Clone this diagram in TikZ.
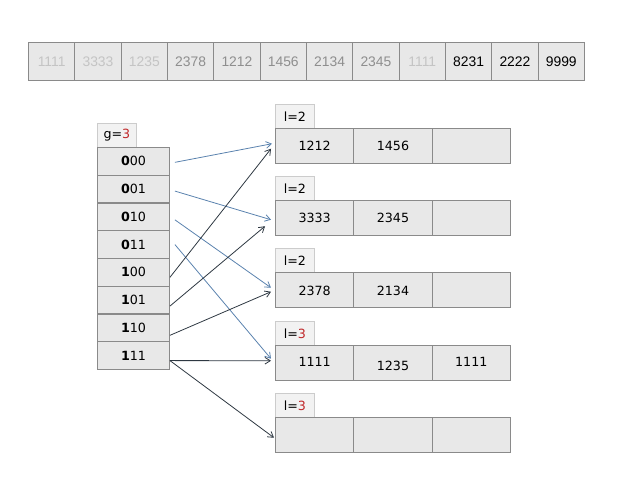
\documentclass[tikz,border=0pt]{standalone}
\usepackage{fontspec}
\setmainfont{DejaVu Sans}
\newfontfamily\keyfont{Liberation Sans}
\usetikzlibrary{arrows.meta,calc}
\definecolor{cellfill}{HTML}{E8E8E8}
\definecolor{cellline}{HTML}{8A8A8A}
\definecolor{tabfill}{HTML}{F2F2F2}
\definecolor{tabline}{HTML}{CCCCCC}
\definecolor{ptrblue}{HTML}{5A82AE}
\definecolor{ptrdark}{HTML}{2E3842}
\definecolor{depthred}{HTML}{C0282A}
\definecolor{oldkey}{HTML}{C4C4C4}
\definecolor{midkey}{HTML}{8E8E8E}
\tikzset{>={Straight Barb[length=4pt,width=5pt]}}

\begin{document}
\begin{tikzpicture}[x=0.75pt,y=-0.75pt,
    every node/.style={inner sep=0pt,font=\fontsize{9.5}{11}\selectfont},
    keycell/.style={draw=cellline,fill=cellfill,line width=0.7pt,anchor=north west,
        minimum width=34.75pt,minimum height=28.5pt,font=\keyfont\fontsize{10.4}{12}\selectfont},
    dircell/.style={draw=cellline,fill=cellfill,line width=0.7pt,anchor=north west,
        minimum width=54pt,minimum height=20.8pt},
    bktcell/.style={draw=cellline,fill=cellfill,line width=0.7pt,anchor=north west,
        minimum width=58.75pt,minimum height=25.9pt},
    tabcell/.style={draw=tabline,fill=tabfill,line width=0.6pt,anchor=north west,
        minimum width=29.25pt,minimum height=18pt},
    ptr blue/.style={draw=ptrblue,line width=0.6pt,->},
    ptr dark/.style={draw=ptrdark,line width=0.6pt,->}]
    \useasboundingbox (0,0) rectangle (638,479);

    % key sequence
    \foreach \key/\col [count=\i from 0] in {1111/oldkey,3333/oldkey,1235/oldkey,2378/midkey,1212/midkey,1456/midkey,2134/midkey,2345/midkey,1111/oldkey,8231/black,2222/black,9999/black}
        \node[keycell,text=\col] (k\i) at ({28+\i*46.33},42) {\key};

    % directory
    \node[tabcell] (gtab) at (97,123) {g=\textcolor{depthred}{3}};
    \foreach \h/\t [count=\i from 0] in {0/00,0/01,0/10,0/11,1/00,1/01,1/10,1/11}
        \node[dircell] (d\i) at (97,{147+\i*27.75}) {\textbf{\h}\t};

    % buckets
    \foreach \y/\l [count=\j] in {128/2,200/2,272/2,345/\textcolor{depthred}{3},417/\textcolor{depthred}{3}} {
        \node[tabcell] (t\j) at (275,\y-24) {l=\l};
        \foreach \c in {0,1,2}
            \node[bktcell] (b\j-\c) at ({275+\c*78.33},\y) {};
    }
    \node (v11) at (b1-0) {1212};
    \node (v12) at (b1-1) {1456};
    \node (v21) at (b2-0) {3333};
    \node (v22) at (b2-1) {2345};
    \node (v31) at ($(b3-0)+(0,1)$) {2378};
    \node (v32) at ($(b3-1)+(0,1)$) {2134};
    \node (v41) at ($(b4-0)+(0,-1)$) {1111};
    \node (v42) at ($(b4-1)+(0,3)$) {1235};
    \node (v43) at ($(b4-2)+(0,-1)$) {1111};

    % pointers
    \draw[ptr blue] ($(d0.east)+(5,1)$) -- ($(b1-0.west)+(-3,-2)$);
    \draw[ptr blue] ($(d1.east)+(5,2)$) -- ($(b2-0.west)+(-4,2)$);
    \draw[ptr blue] ($(d2.east)+(5,3)$) -- ($(b3-0.west)+(-4,-2)$);
    \draw[ptr blue] ($(d3.east)+(5,0)$) -- ($(b4-0.west)+(-4,-4)$);
    \draw[ptr dark] ($(d4.east)+(0,5)$) -- ($(b1-0.west)+(-4,3)$);
    \draw[ptr dark] ($(d5.east)+(0,6)$) -- ($(b2-0.west)+(-10,8.5)$);
    \draw[ptr dark] ($(d6.east)+(0,7.5)$) -- ($(b3-0.west)+(-4,2)$);
    \draw[ptr dark] ($(d7.east)+(0,5)$) -- ($(b4-0.west)+(-4,-2)$);
    \draw[ptr dark] ($(d7.east)+(0,5)$) -- ($(b5-0.west)+(-1,3)$);
\end{tikzpicture}
\end{document}
